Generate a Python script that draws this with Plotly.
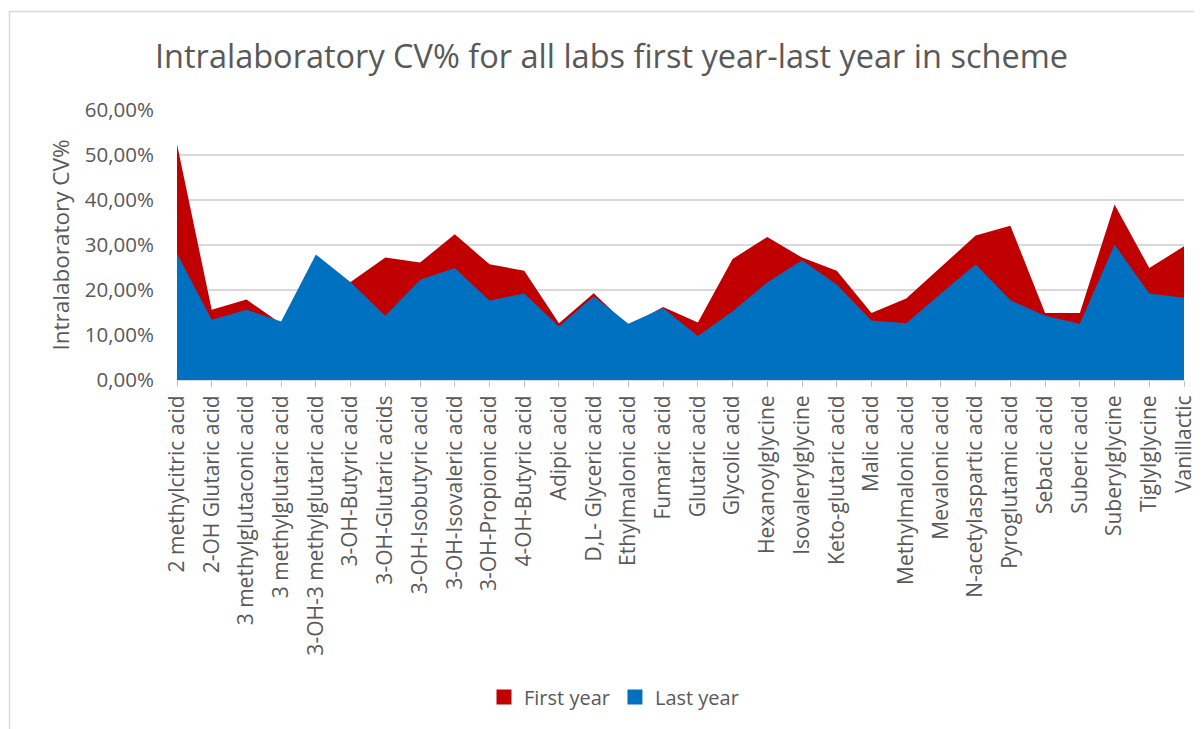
import plotly.graph_objects as go

categories = [
    "2 methylcitric acid", "2-OH Glutaric acid", "3 methylglutaconic acid",
    "3 methylglutaric acid", "3-OH-3 methylglutaric acid", "3-OH-Butyric acid",
    "3-OH-Glutaric acids", "3-OH-Isobutyric acid", "3-OH-Isovaleric acid",
    "3-OH-Propionic acid", "4-OH-Butyric acid", "Adipic acid",
    "D,L- Glyceric acid", "Ethylmalonic acid", "Fumaric acid", "Glutaric acid",
    "Glycolic acid", "Hexanoylglycine", "Isovalerylglycine", "Keto-glutaric acid",
    "Malic acid", "Methylmalonic acid", "Mevalonic acid", "N-acetylaspartic acid",
    "Pyroglutamic acid", "Sebacic acid", "Suberic acid", "Suberylglycine",
    "Tiglylglycine", "Vanillactic",
]

first_year = [
    0.524, 0.156, 0.179, 0.125, 0.22, 0.218, 0.272, 0.261, 0.324, 0.257,
    0.243, 0.126, 0.193, 0.12, 0.162, 0.128, 0.269, 0.318, 0.272, 0.243,
    0.149, 0.181, 0.251, 0.321, 0.343, 0.149, 0.149, 0.39, 0.249, 0.297,
]

last_year = [
    0.281, 0.134, 0.156, 0.130, 0.279, 0.217, 0.143, 0.223, 0.249, 0.176,
    0.193, 0.119, 0.186, 0.125, 0.160, 0.098, 0.153, 0.217, 0.266, 0.212,
    0.132, 0.126, 0.192, 0.257, 0.177, 0.143, 0.125, 0.301, 0.192, 0.183,
]

y_ticks = [0, 0.1, 0.2, 0.3, 0.4, 0.5, 0.6]

RED = "#C00000"
BLUE = "#0070C0"
GREY = "#595959"
FONT = "Open Sans"

fig = go.Figure()
fig.add_trace(go.Scatter(
    x=categories, y=first_year, mode="none", fill="tozeroy",
    fillcolor=RED, name="First year", showlegend=False, hoverinfo="y"))
fig.add_trace(go.Scatter(
    x=categories, y=last_year, mode="none", fill="tozeroy",
    fillcolor=BLUE, name="Last year", showlegend=False, hoverinfo="y"))
# legend swatches
fig.add_trace(go.Scatter(x=[None], y=[None], mode="markers", name="First year",
                         marker=dict(symbol="square", size=15, color=RED)))
fig.add_trace(go.Scatter(x=[None], y=[None], mode="markers", name="Last year",
                         marker=dict(symbol="square", size=15, color=BLUE)))

# page is offset by the default 8px body margin
OFF = 8
W, H = 1202 - OFF, 729 - OFF
L, R, T, B = 177 - OFF, 1202 - 1184, 110 - OFF, 729 - 380
pw = W - L - R
ph = H - T - B

def px_x(page_x):
    return (page_x - OFF - L) / pw

def px_y(page_y):
    return (H - B - (page_y - OFF)) / ph

fig.update_layout(
    width=W, height=H,
    margin=dict(l=L, r=R, t=T, b=B, autoexpand=False),
    paper_bgcolor="white", plot_bgcolor="white",
    separators=", ",
    font=dict(family=FONT, color=GREY, size=18),
    title=dict(text="Intralaboratory CV% for all labs first year-last year in scheme",
               x=(611.5 - OFF) / W, xanchor="center", xref="container",
               y=1 - (57 - OFF) / H, yanchor="middle", yref="container",
               font=dict(size=32.5, color=GREY, family=FONT)),
    legend=dict(orientation="h", x=px_x(614), xanchor="center",
                y=px_y(697), yanchor="middle",
                font=dict(size=20, color=GREY, family=FONT),
                itemsizing="trace", itemwidth=30, tracegroupgap=0,
                bgcolor="rgba(0,0,0,0)"),
    showlegend=True,
    shapes=[dict(type="rect", xref="paper", yref="paper",
                 x0=px_x(9.5), x1=px_x(1215),
                 y0=px_y(760), y1=px_y(11.5),
                 line=dict(color="#d9d9d9", width=1.5), fillcolor="rgba(0,0,0,0)",
                 layer="below")],
)

fig.update_xaxes(
    type="category", range=[0, len(categories) - 1],
    tickangle=-90, ticks="outside", ticklen=6, tickcolor="#bfbfbf",
    showline=True, linecolor="#d9d9d9", linewidth=1,
    showgrid=False, zeroline=False,
    tickfont=dict(size=21, color=GREY, family=FONT),
)
fig.update_yaxes(
    range=[0, 0.6], tickvals=y_ticks, tickformat=".2%",
    showgrid=True, gridcolor="#d9d9d9", gridwidth=1.5,
    zeroline=False, showline=False, ticks="",
    ticklabelstandoff=22,
    tickfont=dict(size=20.5, color=GREY, family=FONT),
    title=dict(text="Intralaboratory CV%", standoff=8,
               font=dict(size=22.5, color=GREY, family=FONT)),
)

fig.write_html("out.html")
